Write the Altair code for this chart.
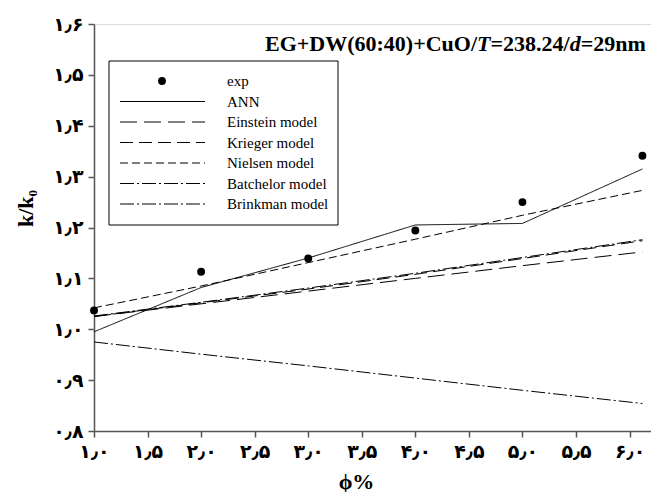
import json
import altair as alt
import pandas as pd

# ---------------- data ----------------
phi = [1.0, 2.0, 3.0, 4.0, 5.0, 6.12]
exp_vals = [1.037, 1.113, 1.139, 1.194, 1.250, 1.341]
ann_vals = [0.995, 1.082, 1.140, 1.205, 1.208, 1.315]
einstein_vals = [1.025, 1.050, 1.075, 1.100, 1.125, 1.152]
krieger_vals = [1.025, 1.052, 1.079, 1.108, 1.139, 1.174]
nielsen_vals = [1.042, 1.085, 1.131, 1.177, 1.224, 1.273]
batchelor_vals = [1.026, 1.053, 1.081, 1.110, 1.141, 1.176]
brinkman_vals = [0.975, 0.951, 0.928, 0.904, 0.880, 0.854]

series_names = ["ANN", "Einstein model", "Krieger model", "Nielsen model",
                "Batchelor model", "Brinkman model"]
series_values = [ann_vals, einstein_vals, krieger_vals, nielsen_vals,
                 batchelor_vals, brinkman_vals]
legend_names = ["exp"] + series_names

x_ticks = [1.0, 1.5, 2.0, 2.5, 3.0, 3.5, 4.0, 4.5, 5.0, 5.5, 6.0]
x_tick_labels = ["۱٫۰", "۱٫۵", "۲٫۰", "۲٫۵", "۳٫۰", "۳٫۵", "۴٫۰", "۴٫۵",
                 "۵٫۰", "۵٫۵", "۶٫۰"]
y_ticks = [0.8, 0.9, 1.0, 1.1, 1.2, 1.3, 1.4, 1.5, 1.6]
y_tick_labels = ["۰٫۸", "۰٫۹", "۱٫۰", "۱٫۱", "۱٫۲", "۱٫۳", "۱٫۴", "۱٫۵", "۱٫۶"]

title_parts = ["EG+DW(60:40)+CuO/", "T", "=238.24/", "d", "=29nm"]
title_italic = [False, True, False, True, False]

# ---------------- styles ----------------
dash_range = [[1, 0], [17, 7], [13, 6], [8, 4], [14, 3, 2, 3], [14, 3, 2, 3]]
SERIF = "Liberation Serif"
ARAB = "DejaVu Sans"

lines_df = pd.DataFrame(
    [{"phi": p, "k": v, "series": n}
     for n, vals in zip(series_names, series_values)
     for p, v in zip(phi, vals)]
)
exp_df = pd.DataFrame({"phi": phi, "k": exp_vals})
leg_df = pd.DataFrame({"series": series_names, "idx": list(range(1, len(series_names) + 1))})

dash_scale = alt.Scale(domain=series_names, range=dash_range)

x_expr = f"{json.dumps(x_tick_labels, ensure_ascii=False)}[indexof({json.dumps(x_ticks)}, datum.value)]"
y_expr = f"{json.dumps(y_tick_labels, ensure_ascii=False)}[indexof({json.dumps(y_ticks)}, datum.value)]"

x_enc = alt.X(
    "phi:Q",
    scale=alt.Scale(domain=[1.0, 6.2], nice=False, zero=False),
    axis=alt.Axis(
        values=x_ticks, labelExpr=x_expr, grid=False,
        labelFont=ARAB, labelFontWeight="bold", labelFontSize=19, labelColor="black",
        labelPadding=5, tickSize=6, tickColor="#555", domainColor="#555",
        domainWidth=1.5, tickWidth=1.5,
        title="ϕ%", titleFont=SERIF, titleFontSize=22, titleFontWeight="bold",
        titleColor="black", titleX=262, titleY=57, titleBaseline="alphabetic",
        labelFlush=False,
    ),
)
y_enc = alt.Y(
    "k:Q",
    scale=alt.Scale(domain=[0.8, 1.6], nice=False, zero=False),
    axis=alt.Axis(
        values=y_ticks, labelExpr=y_expr, grid=False,
        labelFont=ARAB, labelFontWeight="bold", labelFontSize=19, labelColor="black",
        labelPadding=5, tickSize=6, tickColor="#555", domainColor="#555",
        domainWidth=1.5, tickWidth=1.5,
        title="k/k₀", titleFont=SERIF, titleFontSize=22, titleFontWeight="bold",
        titleColor="black", titleX=-62, titleY=184, titleBaseline="alphabetic",
        titleAngle=-90, labelFlush=False,
    ),
)

lines = alt.Chart(lines_df).mark_line(color="black", strokeWidth=1).encode(
    x=x_enc, y=y_enc,
    strokeDash=alt.StrokeDash("series:N", scale=dash_scale, legend=None),
)
points = alt.Chart(exp_df).mark_circle(color="black", opacity=1, size=62).encode(
    x="phi:Q", y="k:Q"
)

one = pd.DataFrame({"a": [0]})
legend_box = alt.Chart(one).mark_rect(fill="white", stroke="black", strokeWidth=1).encode(
    x=alt.value(15), x2=alt.value(244), y=alt.value(37), y2=alt.value(201)
)
legend_dot = alt.Chart(one).mark_circle(color="black", opacity=1, size=62).encode(
    x=alt.value(68), y=alt.value(57)
)
legend_lines = alt.Chart(leg_df).mark_rule(color="black", strokeWidth=1).transform_calculate(
    py="57 + 20.5 * datum.idx"
).encode(
    x=alt.value(26), x2=alt.value(111),
    y=alt.Y("py:Q", scale=None, axis=None),
    strokeDash=alt.StrokeDash("series:N", scale=dash_scale, legend=None),
)
leg_text_df = pd.DataFrame({"name": legend_names, "idx": list(range(len(legend_names)))})
legend_text = alt.Chart(leg_text_df).mark_text(
    align="left", baseline="middle", font=SERIF, fontSize=15, color="black"
).transform_calculate(py="57 + 20.5 * datum.idx").encode(
    x=alt.value(133), y=alt.Y("py:Q", scale=None, axis=None), text="name:N"
)

# title segments laid out left to right (Times-metric widths, 22px)
FS_T = 22
em_widths = [9.640, 0.611, 3.598, 0.500, 2.959]
start = 171.0
title_layers = []
pos = start
for part, ital, w in zip(title_parts, title_italic, em_widths):
    title_layers.append(
        alt.Chart(pd.DataFrame({"t": [part]})).mark_text(
            align="left", baseline="alphabetic", font=SERIF, fontSize=FS_T,
            fontWeight="bold", fontStyle="italic" if ital else "normal", color="black"
        ).encode(x=alt.value(pos), y=alt.value(27), text="t:N")
    )
    pos += w * FS_T

chart = alt.layer(
    lines, points, legend_box, legend_dot, legend_lines, legend_text, *title_layers
).properties(
    width=557, height=407,
    autosize=alt.AutoSizeParams(type="none"),
    padding={"left": 86, "top": 16, "right": 0, "bottom": 61},
).configure_view(stroke="#333", strokeWidth=1.2).configure(background="white")

chart.save("out.html", embed_options={"renderer": "svg", "actions": False})
